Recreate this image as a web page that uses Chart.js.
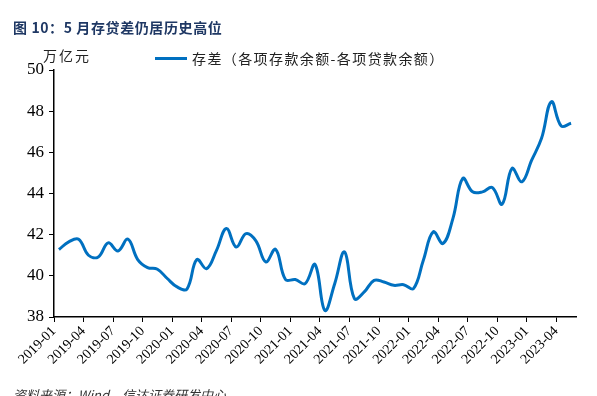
<!DOCTYPE html>
<html>
<head>
<meta charset="utf-8">
<script src="https://cdn.jsdelivr.net/npm/chart.js@4.4.0/dist/chart.umd.min.js"></script>
<style>
  body { margin: 0; background: #fff; }
  #wrap { position: relative; width: 597px; height: 396px; overflow: hidden; font-family: "Noto Sans CJK SC", sans-serif; }
  #title { position: absolute; left: 13px; top: 17px; font-size: 14px; font-weight: bold; color: #1f3864; letter-spacing: 0.6px; }
  #unit { position: absolute; left: 43px; top: 45px; font-size: 14px; color: #222; letter-spacing: 2px; }
  #legline { position: absolute; left: 155px; top: 57px; width: 32px; height: 3px; background: #0070c0; }
  #legtext { position: absolute; left: 192px; top: 48px; font-size: 14px; color: #222; letter-spacing: 1.4px; }
  #source { position: absolute; left: 13px; top: 385px; font-size: 13px; color: #333; font-style: italic; }
  canvas { position: absolute; left: 0; top: 0; }
</style>
</head>
<body>
<div id="wrap">
  <canvas id="myChart" width="597" height="396"></canvas>
  <div id="title">图 10：5 月存贷差仍居历史高位</div>
  <div id="unit">万亿元</div>
  <div id="legline"></div>
  <div id="legtext">存差（各项存款余额-各项贷款余额）</div>
  <div id="source">资料来源：Wind，信达证券研发中心</div>
</div>
<script>
  // months 2019-01 .. 2023-05
  const months = [];
  for (let y = 2019; y <= 2023; y++) {
    for (let m = 1; m <= 12; m++) {
      if (y === 2023 && m > 5) break;
      months.push(y + '-' + String(m).padStart(2, '0'));
    }
  }

  // 存差, 万亿元
  const gap = [
    41.28, 41.65, 41.78, 41.00, 40.92, 41.60, 41.21, 41.78, 40.79, 40.40, 40.32, 39.87,
    39.46, 39.36, 40.79, 40.35, 41.24, 42.30, 41.40, 42.05, 41.70, 40.68, 41.29, 39.82,
    39.82, 39.62, 40.55, 38.32, 39.62, 41.16, 38.89, 39.22, 39.78, 39.70, 39.54, 39.57,
    39.38, 40.76, 42.14, 41.57, 42.78, 44.73, 44.08, 44.08, 44.29, 43.48, 45.22, 44.57,
    45.62, 46.68, 48.46, 47.28, 47.41
  ];

  const ctx = document.getElementById('myChart').getContext('2d');
  const myChart = new Chart(ctx, {
    type: 'line',
    data: {
      labels: months,
      datasets: [{
        label: '存差（各项存款余额-各项贷款余额）',
        data: gap,
        borderColor: '#0070c0',
        borderWidth: 3,
        pointRadius: 0,
        tension: 0.4,
        fill: false
      }]
    },
    options: {
      responsive: false,
      animation: false,
      layout: { padding: { top: 70, right: 21, left: 0, bottom: 0 } },
      plugins: { legend: { display: false }, tooltip: { enabled: false } },
      scales: {
        x: {
          offset: true,
          afterFit: s => { s.height = 79; },
          border: { color: '#000', width: 1.5 },
          grid: {
            offset: true,
            drawOnChartArea: false,
            tickLength: 5,
            color: c => (c.index % 3 === 0 ? '#000' : 'rgba(0,0,0,0)')
          },
          ticks: {
            autoSkip: false,
            maxRotation: 45,
            minRotation: 45,
            labelOffset: -5,
            padding: 1,
            color: '#000',
            font: { family: 'Liberation Serif', size: 14 },
            callback: function (v, i) { return i % 3 === 0 ? this.getLabelForValue(v) : ''; }
          }
        },
        y: {
          min: 38,
          max: 50,
          afterFit: s => { s.width = 54; },
          border: { color: '#000', width: 1.5 },
          grid: { drawOnChartArea: false, tickLength: 5, color: '#000' },
          ticks: {
            stepSize: 2,
            padding: 5,
            color: '#000',
            font: { family: 'Liberation Serif', size: 17 }
          }
        }
      }
    }
  });
</script>
</body>
</html>
